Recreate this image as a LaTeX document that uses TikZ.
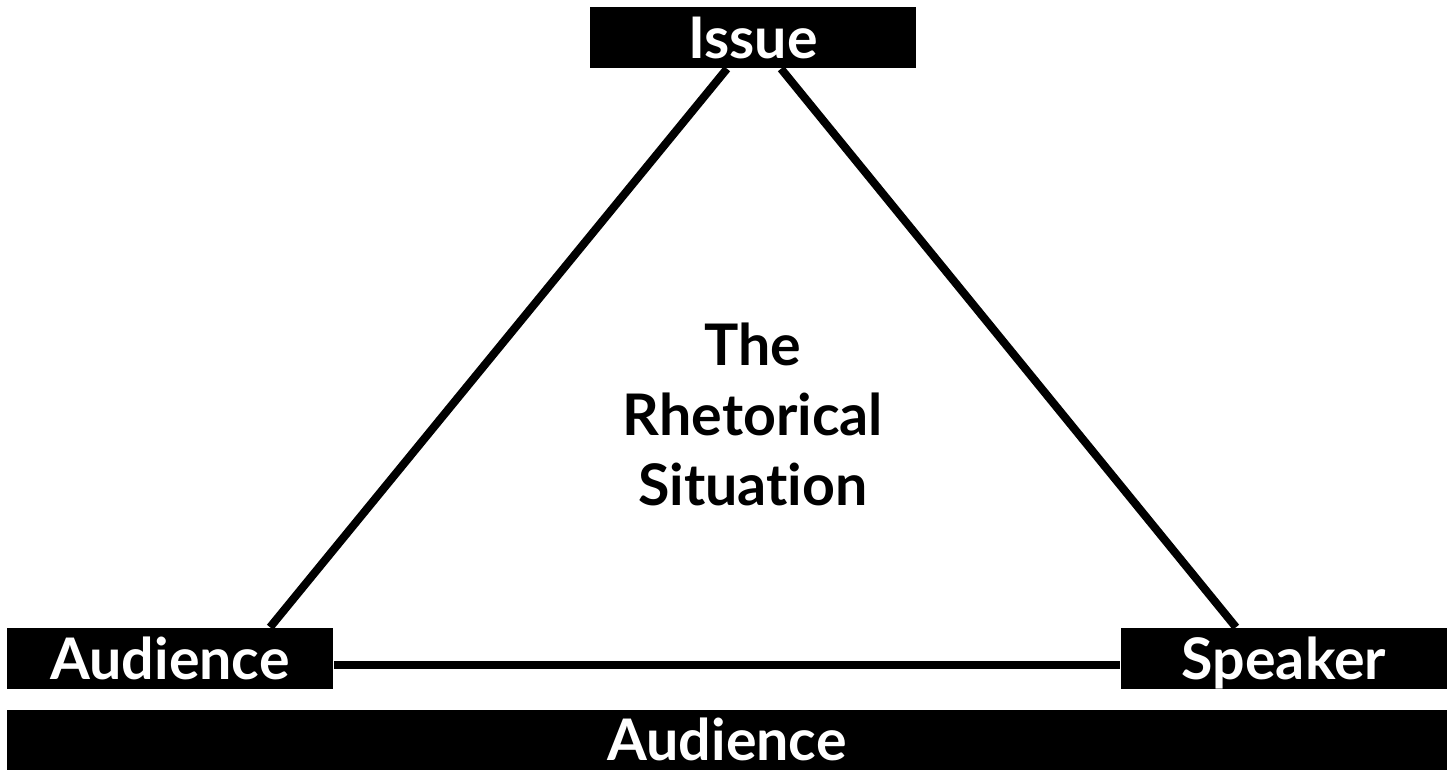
\documentclass[tikz,border=0pt]{standalone}
\usepackage{fontspec}
\setmainfont{Lato}[Ligatures={NoCommon}]
\usepackage{tikz}
\usetikzlibrary{calc,backgrounds}

\begin{document}
\begin{tikzpicture}[
    x=0.01cm,y=-0.01cm,
    font=\bfseries\fontsize{16.3}{19.9}\selectfont,
    tag/.style={fill=black,text=white,minimum width=3.26cm,minimum height=0.61cm,inner sep=0pt,text height=0.41cm,text depth=0pt},
    band/.style={tag,minimum width=14.40cm,minimum height=0.60cm},
    edge/.style={line width=2.3pt,draw=black}
  ]
    \useasboundingbox (0,0) rectangle (1452,770);

    \node[tag] (issue) at (753,37.5) {Issue};
    \node[tag] (aud) at (170,658.5) {Audience};
    \node[tag] (spk) at (1284,658.5) {Speaker};
    \node[band] (all) at (727,740) {Audience};
    \node[align=center] (situ) at (753,414) {The\\Rhetorical\\Situation};

    \begin{scope}[on background layer]
      \draw[edge] ([xshift=-0.26cm]issue.south) -- ([xshift=1.00cm]aud.north);
      \draw[edge] ([xshift=0.28cm]issue.south) -- ([xshift=-0.48cm]spk.north);
      \draw[edge] ([yshift=-0.065cm]aud.east) -- ([yshift=-0.065cm]spk.west);
    \end{scope}
  \end{tikzpicture}
\end{document}
